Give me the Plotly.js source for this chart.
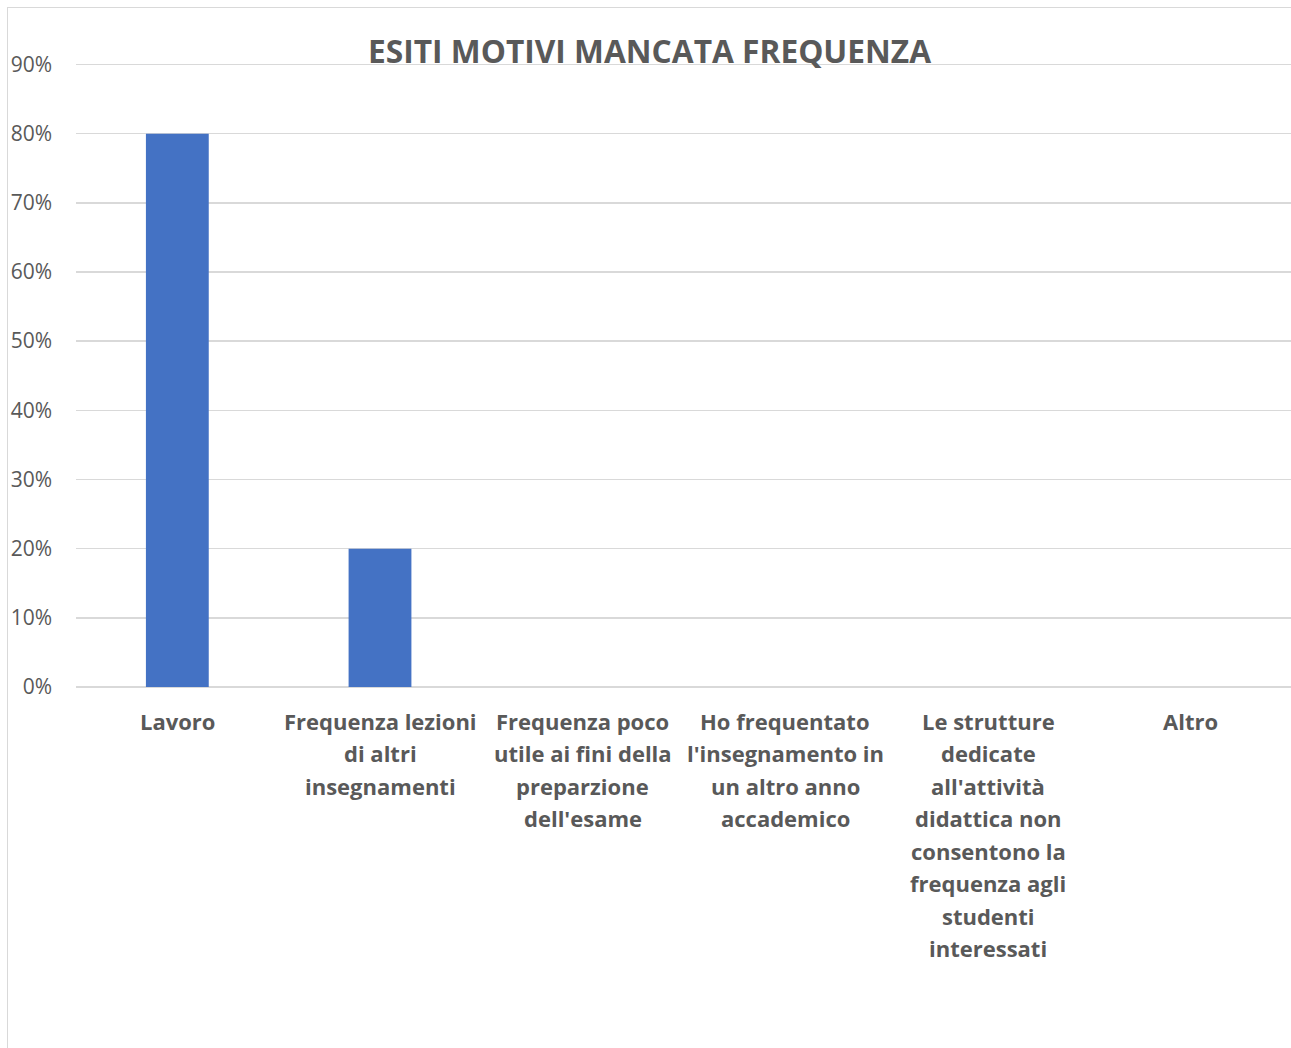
<!DOCTYPE html>
<html>
<head>
<meta charset="utf-8">
<script src="https://cdn.plot.ly/plotly-3.0.1.min.js"></script>
<style>
  html, body { margin: 0; padding: 0; background: #fff; overflow: hidden; width: 1291px; height: 1048px; }
  #chart { position: absolute; left: 7px; top: 7px; width: 1300px; height: 1060px; border: 1.5px solid #d9d9d9; box-sizing: border-box; }
</style>
</head>
<body>
<div id="chart"></div>
<script>
const categories = [
  "Lavoro",
  "Frequenza lezioni di altri insegnamenti",
  "Frequenza poco utile ai fini della preparzione dell'esame",
  "Ho frequentato l'insegnamento in un altro anno accademico",
  "Le strutture dedicate all'attività didattica non consentono la frequenza agli studenti interessati",
  "Altro"
];
const tickLabels = [
  "Lavoro",
  "Frequenza lezioni<br>di altri<br>insegnamenti",
  "Frequenza poco<br>utile ai fini della<br>preparzione<br>dell'esame",
  "Ho frequentato<br>l'insegnamento in<br>un altro anno<br>accademico",
  "Le strutture<br>dedicate<br>all'attività<br>didattica non<br>consentono la<br>frequenza agli<br>studenti<br>interessati",
  "Altro"
];
const values = [0.80, 0.20, 0, 0, 0, 0];
const yTicks = [0, 0.1, 0.2, 0.3, 0.4, 0.5, 0.6, 0.7, 0.8, 0.9];

const gray = "#595959";
const trace = {
  type: "bar",
  x: categories,
  y: values,
  width: 0.31,
  marker: { color: "#4472C4" },
  hoverinfo: "x+y"
};

// category labels, one annotation per wrapped line (to match the line spacing)
const annotations = [];
categories.forEach((c, ci) => {
  tickLabels[ci].split("<br>").forEach((line, li) => {
    annotations.push({
      x: c, y: 0, xref: "x", yref: "y",
      text: "<b>" + line + "</b>",
      showarrow: false,
      xanchor: "center", yanchor: "middle",
      yshift: -(33.5 + li * 32.5),
      font: { family: "'Open Sans', sans-serif", size: 22, color: gray }
    });
  });
});

const layout = {
  width: 1300,
  height: 1060,
  margin: { l: 68, r: 16, t: 52.5, b: 381 },
  paper_bgcolor: "rgba(0,0,0,0)",
  plot_bgcolor: "#fff",
  showlegend: false,
  font: { family: "'Open Sans', sans-serif", color: gray },
  title: {
    text: "<b>ESITI MOTIVI MANCATA FREQUENZA</b>",
    font: { family: "'Open Sans', sans-serif", size: 31.7, color: gray },
    xref: "container", x: 0.4935, xanchor: "center",
    yref: "container", y: 1 - 43.5 / 1060, yanchor: "middle"
  },
  xaxis: {
    tickmode: "array",
    tickvals: categories,
    showticklabels: false,
    ticks: "",
    showgrid: false,
    showline: false,
    zeroline: false,
    fixedrange: true
  },
  yaxis: {
    range: [0, 0.905],
    tickmode: "array",
    tickvals: yTicks,
    tickformat: ".0%",
    tickfont: { size: 21, color: gray },
    ticks: "",
    ticklabelstandoff: 23,
    showgrid: true,
    gridcolor: "#d9d9d9",
    gridwidth: 1.5,
    zeroline: true,
    zerolinecolor: "#d9d9d9",
    zerolinewidth: 1.5,
    showline: false,
    fixedrange: true
  },
  annotations: annotations,
  bargap: 0.69
};

Plotly.newPlot("chart", [trace], layout, { displayModeBar: false, staticPlot: true });
</script>
</body>
</html>
